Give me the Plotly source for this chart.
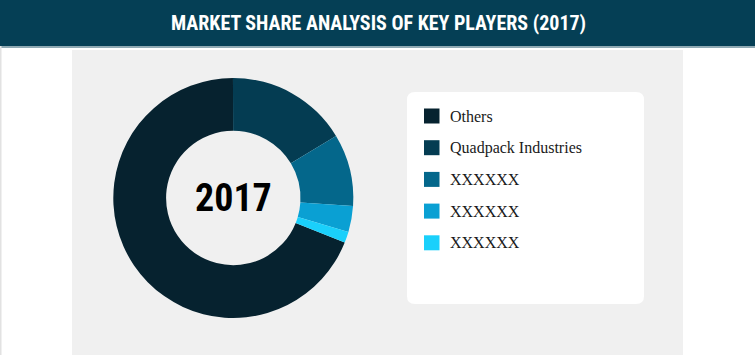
import plotly.graph_objects as go
import re

W, H = 755, 355

title_text = "MARKET SHARE ANALYSIS OF KEY PLAYERS (2017)"
center_text = "2017"
labels = ["Others", "Quadpack Industries", "XXXXXX", "XXXXXX", "XXXXXX"]
legend_keys = ["Others", "Quadpack Industries", "XXXXXX (1)", "XXXXXX (2)", "XXXXXX (3)"]
values = [68.9, 16.4, 9.7, 3.5, 1.5]
colors = ["#06222f", "#043c52", "#04678b", "#0aa0d3", "#1ad0fb"]

COND = "Roboto Condensed, Roboto, Liberation Sans, sans-serif"


def px(x):
    return x / W


def py(y):
    return 1 - y / H


fig = go.Figure()

fig.add_trace(go.Pie(
    labels=legend_keys,
    values=values,
    customdata=labels,
    sort=False,
    direction="clockwise",
    rotation=111.8,
    hole=0.56,
    marker=dict(colors=colors, line=dict(width=0)),
    textinfo="none",
    hovertemplate="%{customdata}: %{percent}<extra></extra>",
    showlegend=False,
    domain=dict(x=[px(113.3), px(353.3)], y=[py(318), py(78)]),
))

shapes = []
# header bar
shapes.append(dict(type="rect", xref="paper", yref="paper", x0=0, x1=1,
                   y0=py(46), y1=1, fillcolor="#053f55", line=dict(width=0), layer="below"))
shapes.append(dict(type="rect", xref="paper", yref="paper", x0=0, x1=1,
                   y0=py(48), y1=py(46), fillcolor="#8fa9b3", line=dict(width=0), layer="below"))
# grey panel
shapes.append(dict(type="rect", xref="paper", yref="paper", x0=px(72), x1=px(683),
                   y0=0, y1=py(50), fillcolor="#f0f0f0", line=dict(width=0), layer="below"))
# left thin border
shapes.append(dict(type="rect", xref="paper", yref="paper", x0=0, x1=px(1.5),
                   y0=0, y1=py(46), fillcolor="#e2e2e2", line=dict(width=0), layer="below"))

# legend box (rounded)
x0, x1, y0, y1, r = 407, 644, 92, 304, 8
path = (f"M {x0 + r},{y0} L {x1 - r},{y0} Q {x1},{y0} {x1},{y0 + r} "
        f"L {x1},{y1 - r} Q {x1},{y1} {x1 - r},{y1} L {x0 + r},{y1} "
        f"Q {x0},{y1} {x0},{y1 - r} L {x0},{y0 + r} Q {x0},{y0} {x0 + r},{y0} Z")


def conv(match):
    a, b = float(match.group(1)), float(match.group(2))
    return f"{px(a):.5f},{py(b):.5f}"


path_paper = re.sub(r"([\d.]+),([\d.]+)", conv, path)
shapes.append(dict(type="path", xref="paper", yref="paper", path=path_paper,
                   fillcolor="#ffffff", line=dict(width=0), layer="below"))

annotations = []
row_y0, row_dy = 116, 31.7
for i, (lab, col) in enumerate(zip(labels, colors)):
    cy = row_y0 + i * row_dy
    shapes.append(dict(type="rect", xref="paper", yref="paper",
                       x0=px(424), x1=px(439.5), y0=py(cy + 7.5), y1=py(cy - 7.5),
                       fillcolor=col, line=dict(width=0)))
    annotations.append(dict(text=lab, xref="paper", yref="paper", x=px(448), y=py(cy),
                            xanchor="left", yanchor="middle", showarrow=False,
                            font=dict(family="Liberation Serif, DejaVu Serif, serif",
                                      size=16, color="#1a1a1a")))

annotations.append(dict(text=f"<b>{title_text}</b>", xref="paper", yref="paper",
                        x=px(378), y=py(23), xanchor="center", yanchor="middle",
                        showarrow=False,
                        font=dict(family=COND, size=20, color="#ffffff")))
annotations.append(dict(text=f"<b>{center_text}</b>", xref="paper", yref="paper",
                        x=px(233.3), y=py(198), xanchor="center", yanchor="middle",
                        showarrow=False,
                        font=dict(family=COND, size=38, color="#000000")))

fig.update_layout(
    width=W, height=H,
    margin=dict(l=0, r=0, t=0, b=0),
    paper_bgcolor="#ffffff",
    plot_bgcolor="#ffffff",
    shapes=shapes,
    annotations=annotations,
    showlegend=False,
)

fig.write_html("out.html", config={"displayModeBar": False})
